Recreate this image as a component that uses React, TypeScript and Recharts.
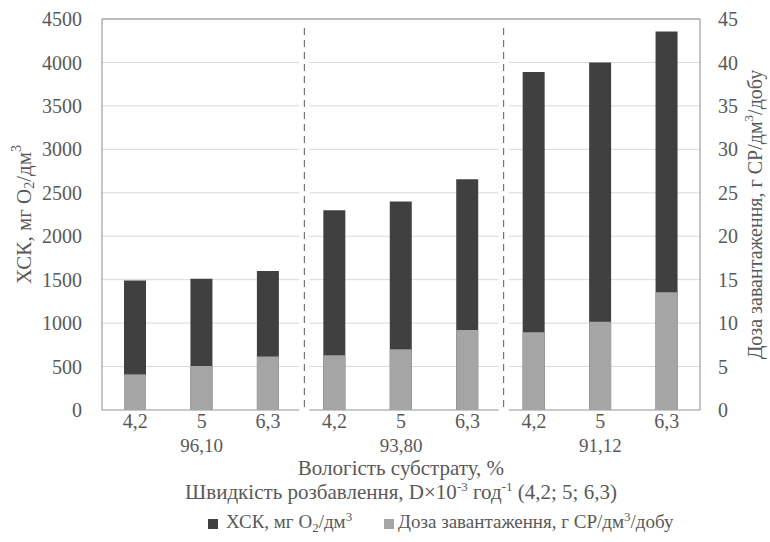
import React from 'react';
import { BarChart, Bar, XAxis, YAxis, CartesianGrid, Legend, ReferenceLine } from 'recharts';

// dilution rate per bar, moisture per group of three
const rates = ['4,2', '5', '6,3', '4,2', '5', '6,3', '4,2', '5', '6,3'];
const moisture = ['96,10', '93,80', '91,12'];
const codValues = [1490, 1510, 1600, 2300, 2400, 2655, 3890, 4000, 4355];
const doseValues = [4.1, 5.05, 6.15, 6.3, 7.0, 9.2, 8.95, 10.15, 13.55];
const leftTicks = [0, 500, 1000, 1500, 2000, 2500, 3000, 3500, 4000, 4500];
const rightTicks = [0, 5, 10, 15, 20, 25, 30, 35, 40, 45];

const data = rates.map((r, i) => ({
  id: `${moisture[Math.floor(i / 3)]}|${r}`,
  cod: codValues[i],
  dose: doseValues[i],
}));

const FONT = 'Liberation Serif, DejaVu Serif, serif';
const TXT = '#595959';
const DARK = '#404040';
const LIGHT = '#a5a5a5';
const TOP = 19;

function XTick(props: any) {
  const { x, y, payload } = props;
  const i = payload.index ?? props.index;
  const half = payload.offset ?? 33;
  return (
    <g>
      {i % 3 === 0 && i > 0 && (
        <g>
          <rect x={x - half - 2} y={TOP + 6} width={10} height={y - TOP - 4} fill="#fff" />
          <line x1={x - half + 3} x2={x - half + 3} y1={TOP + 9} y2={y} stroke={TXT} strokeDasharray="7 5" />
        </g>
      )}
      <text x={x} y={y + 16} textAnchor="middle" fill={TXT} fontSize={20} fontFamily={FONT}>
        {rates[i]}
      </text>
      {i % 3 === 1 && (
        <text x={x} y={y + 40} textAnchor="middle" fill={TXT} fontSize={19} fontFamily={FONT}>
          {moisture[Math.floor(i / 3)]}
        </text>
      )}
    </g>
  );
}

function XTitle(props: any) {
  const { x, y, width } = props.viewBox;
  const cx = x + width / 2;
  return (
    <g fill={TXT} fontSize={21} fontFamily={FONT}>
      <text x={cx} y={y + 65} textAnchor="middle">Вологість субстрату, %</text>
      <text x={cx} y={y + 89} textAnchor="middle">
        Швидкість розбавлення, D×10<tspan dy={-8} fontSize={13}>-3</tspan>
        <tspan dy={8}> год</tspan>
        <tspan dy={-8} fontSize={13}>-1</tspan>
        <tspan dy={8}> (4,2; 5; 6,3)</tspan>
      </text>
    </g>
  );
}

function LeftTitle(props: any) {
  const { y, height } = props.viewBox;
  const cy = y + height / 2;
  return (
    <text x={24} y={cy} transform={`rotate(-90 24 ${cy})`} textAnchor="middle" dominantBaseline="central"
      fill={TXT} fontSize={21} fontFamily={FONT}>
      ХСК, мг О<tspan dy={5} fontSize={14}>2</tspan>
      <tspan dy={-5}>/дм</tspan>
      <tspan dy={-8} fontSize={14}>3</tspan>
    </text>
  );
}

function RightTitle(props: any) {
  const { y, height } = props.viewBox;
  const cy = y + height / 2;
  return (
    <text x={755} y={cy} transform={`rotate(-90 755 ${cy})`} textAnchor="middle" dominantBaseline="central"
      fill={TXT} fontSize={20} fontFamily={FONT}>
      Доза завантаження, г СР/дм<tspan dy={-7} fontSize={13}>3</tspan>
      <tspan dy={7}>/добу</tspan>
    </text>
  );
}

function LegendBox() {
  const sq = { position: 'absolute' as const, top: 17, width: 10, height: 10 };
  const lbl = { position: 'absolute' as const, top: 8, lineHeight: '24px', whiteSpace: 'nowrap' as const };
  const small = { fontSize: 13, position: 'relative' as const };
  return (
    <div style={{ position: 'relative', height: 40, fontFamily: FONT, fontSize: 19, color: TXT }}>
      <span style={{ ...sq, left: 208, background: DARK }} />
      <span style={{ ...lbl, left: 226 }}>
        ХСК, мг О<span style={{ ...small, top: 4 }}>2</span>/дм<span style={{ ...small, top: -7 }}>3</span>
      </span>
      <span style={{ ...sq, left: 384, background: LIGHT }} />
      <span style={{ ...lbl, left: 398 }}>
        Доза завантаження, г СР/дм<span style={{ ...small, top: -7 }}>3</span>/добу
      </span>
    </div>
  );
}

export default function App() {
  return (
    <div style={{ position: 'absolute', left: 0, top: 0, background: '#fff', fontFamily: FONT }}>
      <BarChart width={770} height={542} data={data} margin={{ top: TOP, right: 0, bottom: 0, left: 0 }}
        style={{ fontFamily: FONT }}>
        <CartesianGrid yAxisId="left" vertical={false} stroke="#d9d9d9" />
        <XAxis xAxisId="a" dataKey="id" interval={0} height={92} tickLine={false} tickSize={0}
          axisLine={{ stroke: '#a6a6a6' }} tick={<XTick />} label={{ content: XTitle }} />
        <XAxis xAxisId="b" dataKey="id" hide />
        <YAxis yAxisId="left" domain={[0, 4500]} ticks={leftTicks} width={102} tickLine={false} tickSize={0}
          tickMargin={20} axisLine={{ stroke: '#8c8c8c' }} tick={{ fill: TXT, fontSize: 20, fontFamily: FONT }}
          label={{ content: LeftTitle }} />
        <YAxis yAxisId="right" orientation="right" domain={[0, 45]} ticks={rightTicks} width={70} tickLine={false}
          tickSize={0} tickMargin={18} axisLine={{ stroke: '#8c8c8c' }}
          tick={{ fill: TXT, fontSize: 20, fontFamily: FONT }} label={{ content: RightTitle }} />
        <ReferenceLine xAxisId="a" yAxisId="left" y={4500} stroke="#8c8c8c" />
        <Bar dataKey="cod" name="ХСК, мг О2/дм3" xAxisId="a" yAxisId="left" fill={DARK} barSize={22}
          isAnimationActive={false} />
        <Bar dataKey="dose" name="Доза завантаження, г СР/дм3/добу" xAxisId="b" yAxisId="right" fill={LIGHT}
          barSize={22} isAnimationActive={false} />
        <Legend verticalAlign="bottom" height={40} content={<LegendBox />} />
      </BarChart>
    </div>
  );
}
